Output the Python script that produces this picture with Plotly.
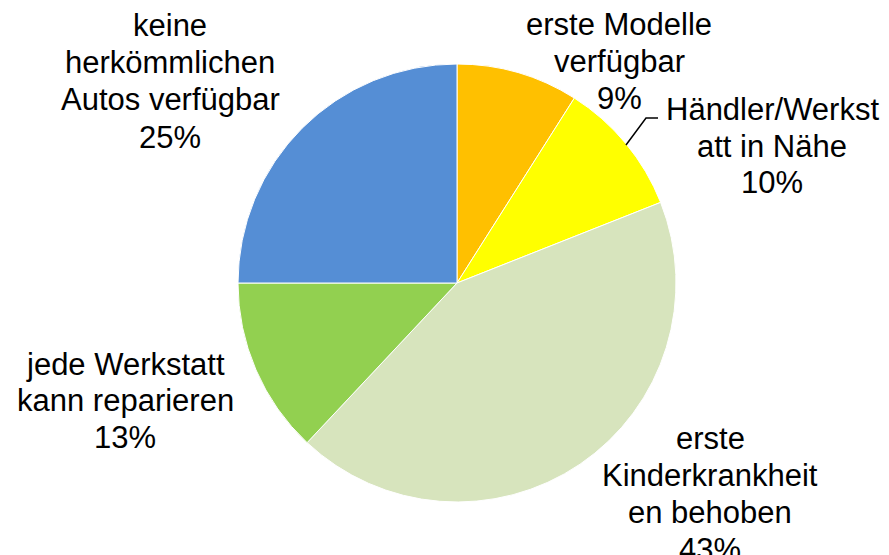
import plotly.graph_objects as go

# ---- data ----
categories = [
    "erste Modelle verfügbar",
    "Händler/Werkstatt in Nähe",
    "erste Kinderkrankheiten behoben",
    "jede Werkstatt kann reparieren",
    "keine herkömmlichen Autos verfügbar",
]
label_lines = [
    ["erste Modelle", "verfügbar"],
    ["Händler/Werkst", "att in Nähe"],
    ["erste", "Kinderkrankheit", "en behoben"],
    ["jede Werkstatt", "kann reparieren"],
    ["keine", "herkömmlichen", "Autos verfügbar"],
]
values = [9, 10, 43, 13, 25]
colors = ["#FFC000", "#FFFF00", "#D7E4BD", "#92D050", "#558ED5"]

W, H = 889, 555

def px(x, y):
    return x / W, 1 - y / H

# label placement: centre x, centre y of first line, line step (pixels)
label_pos = [(619, 25, 37), (772, 109, 37), (710, 438, 37), (125, 364, 36.5), (170, 26, 37)]

fig = go.Figure(
    go.Pie(
        labels=categories,
        values=values,
        sort=False,
        direction="clockwise",
        rotation=0,
        marker=dict(colors=colors, line=dict(color="white", width=1)),
        textinfo="none",
        hoverinfo="label+percent",
        showlegend=False,
        domain=dict(x=[238 / W, 676 / W], y=[1 - 502 / H, 1 - 64 / H]),
    )
)

total = sum(values)
annotations = []
for lines, v, (x, y0, step) in zip(label_lines, values, label_pos):
    all_lines = lines + [f"{round(100 * v / total)}%"]
    for i, ln in enumerate(all_lines):
        ax, ay = px(x, y0 + i * step)
        annotations.append(
            dict(
                text=ln,
                x=ax, y=ay, xref="paper", yref="paper",
                xanchor="center", yanchor="middle", align="center",
                showarrow=False,
                font=dict(family="Liberation Sans, Arial, sans-serif", size=31, color="black"),
            )
        )

# leader line for the "Händler/Werkstatt" label
p1, p2, p3 = px(626, 145), px(646, 118), px(658, 118)
shapes = [
    dict(
        type="path", xref="paper", yref="paper",
        path=f"M {p1[0]} {p1[1]} L {p2[0]} {p2[1]} L {p3[0]} {p3[1]}",
        line=dict(color="black", width=1.5),
    )
]

fig.update_layout(
    width=W, height=H,
    margin=dict(l=0, r=0, t=0, b=0),
    paper_bgcolor="white",
    plot_bgcolor="white",
    annotations=annotations,
    shapes=shapes,
)

fig.write_html("out.html", config={"displayModeBar": False})

# remove the browser's default page margin so the chart sits at the top-left corner
with open("out.html", "r", encoding="utf-8") as f:
    html = f.read()
html = html.replace("<body>", '<body style="margin:0;padding:0;overflow:hidden">', 1)
with open("out.html", "w", encoding="utf-8") as f:
    f.write(html)
